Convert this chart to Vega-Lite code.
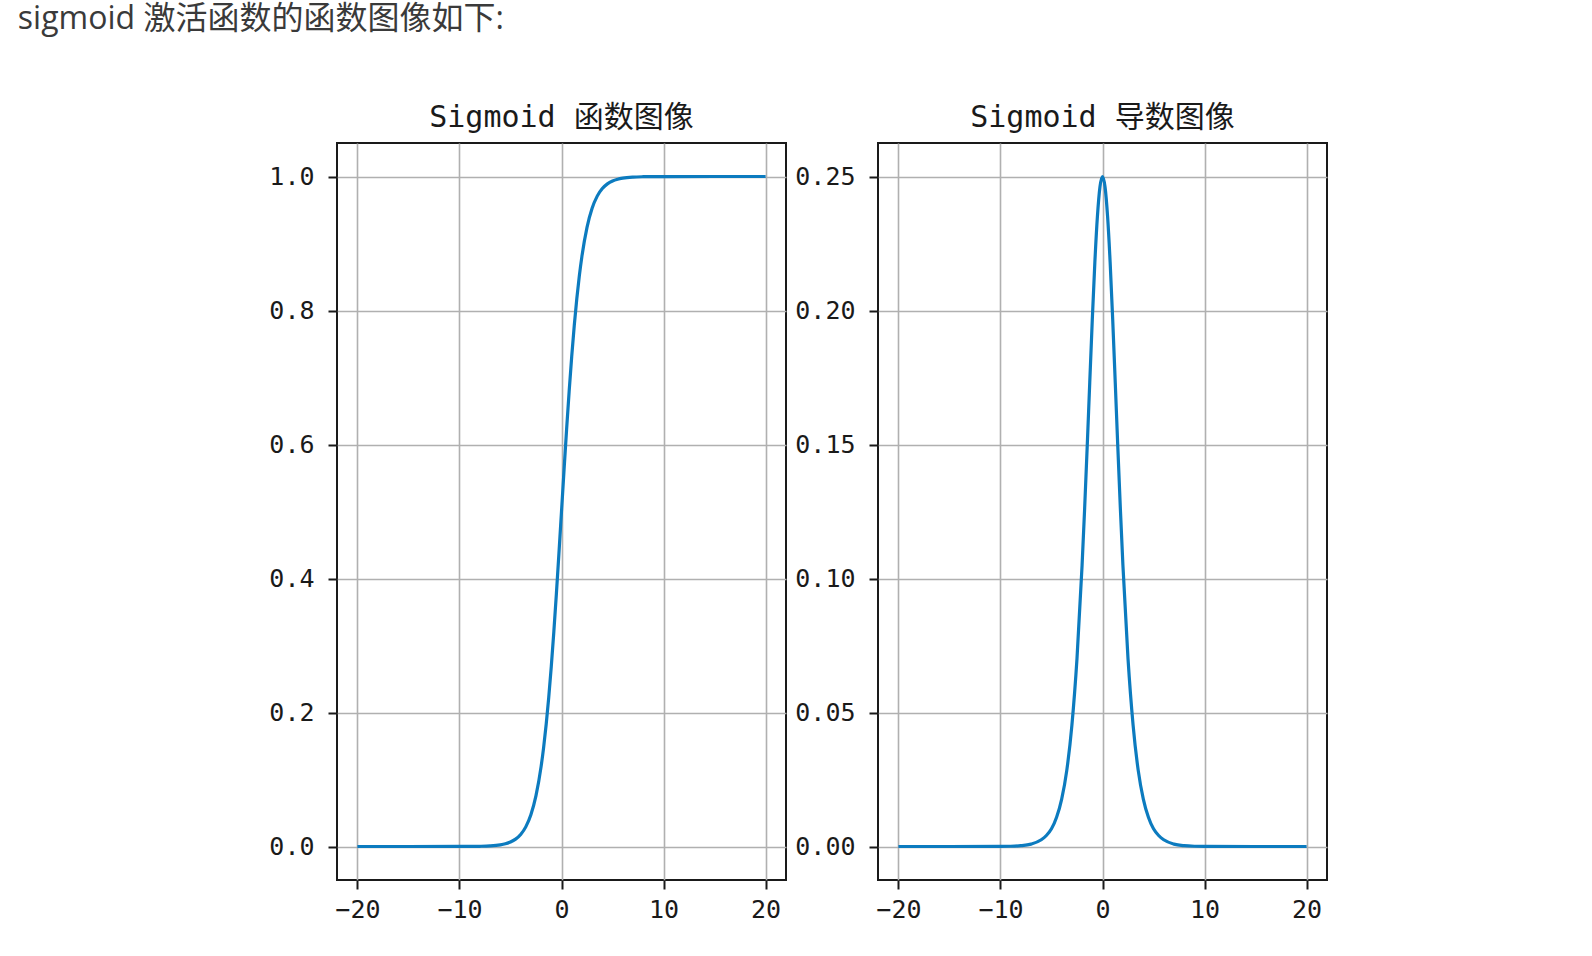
{
  "$schema": "https://vega.github.io/schema/vega-lite/v6.json",
  "background": "white",
  "padding": {"left": 17, "top": 3, "right": 5, "bottom": 5},
  "title": {
    "text": "sigmoid 激活函数的函数图像如下:",
    "anchor": "start",
    "frame": "bounds",
    "dx": -250,
    "offset": 41,
    "baseline": "alphabetic",
    "font": "Open Sans, Noto Sans CJK SC",
    "fontSize": 32,
    "fontWeight": "normal",
    "color": "#3a3a3a"
  },
  "data": {
    "values": [
      {"x": -20, "sig": 0.0, "dsig": 0.0},
      {"x": -15, "sig": 0.0, "dsig": 0.0},
      {"x": -10, "sig": 0.00005, "dsig": 0.00005},
      {"x": -9, "sig": 0.0001, "dsig": 0.0001},
      {"x": -8, "sig": 0.0003, "dsig": 0.0003},
      {"x": -7, "sig": 0.0009, "dsig": 0.0009},
      {"x": -6, "sig": 0.0025, "dsig": 0.0025},
      {"x": -5.5, "sig": 0.0041, "dsig": 0.0041},
      {"x": -5, "sig": 0.0067, "dsig": 0.0066},
      {"x": -4.5, "sig": 0.011, "dsig": 0.0109},
      {"x": -4, "sig": 0.018, "dsig": 0.0177},
      {"x": -3.5, "sig": 0.0293, "dsig": 0.0284},
      {"x": -3, "sig": 0.0474, "dsig": 0.0452},
      {"x": -2.5, "sig": 0.0759, "dsig": 0.0701},
      {"x": -2, "sig": 0.1192, "dsig": 0.105},
      {"x": -1.75, "sig": 0.148, "dsig": 0.1261},
      {"x": -1.5, "sig": 0.1824, "dsig": 0.1491},
      {"x": -1.25, "sig": 0.2227, "dsig": 0.1731},
      {"x": -1, "sig": 0.2689, "dsig": 0.1966},
      {"x": -0.75, "sig": 0.3208, "dsig": 0.2179},
      {"x": -0.5, "sig": 0.3775, "dsig": 0.235},
      {"x": -0.25, "sig": 0.4378, "dsig": 0.2461},
      {"x": 0, "sig": 0.5, "dsig": 0.25},
      {"x": 0.25, "sig": 0.5622, "dsig": 0.2461},
      {"x": 0.5, "sig": 0.6225, "dsig": 0.235},
      {"x": 0.75, "sig": 0.6792, "dsig": 0.2179},
      {"x": 1, "sig": 0.7311, "dsig": 0.1966},
      {"x": 1.25, "sig": 0.7773, "dsig": 0.1731},
      {"x": 1.5, "sig": 0.8176, "dsig": 0.1491},
      {"x": 1.75, "sig": 0.852, "dsig": 0.1261},
      {"x": 2, "sig": 0.8808, "dsig": 0.105},
      {"x": 2.5, "sig": 0.9241, "dsig": 0.0701},
      {"x": 3, "sig": 0.9526, "dsig": 0.0452},
      {"x": 3.5, "sig": 0.9707, "dsig": 0.0284},
      {"x": 4, "sig": 0.982, "dsig": 0.0177},
      {"x": 4.5, "sig": 0.989, "dsig": 0.0109},
      {"x": 5, "sig": 0.9933, "dsig": 0.0066},
      {"x": 5.5, "sig": 0.9959, "dsig": 0.0041},
      {"x": 6, "sig": 0.9975, "dsig": 0.0025},
      {"x": 7, "sig": 0.9991, "dsig": 0.0009},
      {"x": 8, "sig": 0.9997, "dsig": 0.0003},
      {"x": 9, "sig": 0.9999, "dsig": 0.0001},
      {"x": 10, "sig": 0.99995, "dsig": 0.00005},
      {"x": 15, "sig": 1.0, "dsig": 0.0},
      {"x": 20, "sig": 1.0, "dsig": 0.0}
    ]
  },
  "hconcat": [
    {
      "width": 449,
      "height": 737,
      "title": {"text": "Sigmoid 函数图像"},
      "mark": {"type": "line", "color": "#0c7bbf", "strokeWidth": 3.2, "interpolate": "monotone", "clip": true},
      "encoding": {
        "x": {
          "field": "x", "type": "quantitative",
          "scale": {"domain": [-22, 22], "nice": false, "zero": false},
          "axis": {"values": [-20, -10, 0, 10, 20], "title": null}
        },
        "y": {
          "field": "sig", "type": "quantitative",
          "scale": {"domain": [-0.05, 1.05], "nice": false, "zero": false},
          "axis": {"values": [0, 0.2, 0.4, 0.6, 0.8, 1.0], "format": ".1f", "title": null}
        }
      }
    },
    {
      "width": 449,
      "height": 737,
      "title": {"text": "Sigmoid 导数图像"},
      "mark": {"type": "line", "color": "#0c7bbf", "strokeWidth": 3.2, "interpolate": "monotone", "clip": true},
      "encoding": {
        "x": {
          "field": "x", "type": "quantitative",
          "scale": {"domain": [-22, 22], "nice": false, "zero": false},
          "axis": {"values": [-20, -10, 0, 10, 20], "title": null}
        },
        "y": {
          "field": "dsig", "type": "quantitative",
          "scale": {"domain": [-0.0125, 0.2625], "nice": false, "zero": false},
          "axis": {"values": [0, 0.05, 0.1, 0.15, 0.2, 0.25], "format": ".2f", "title": null}
        }
      }
    }
  ],
  "spacing": 92,
  "bounds": "flush",
  "config": {
    "view": {"stroke": "#1a1a1a", "strokeWidth": 2},
    "title": {
      "font": "DejaVu Sans Mono, Noto Sans CJK SC",
      "fontSize": 30,
      "fontWeight": "normal",
      "color": "#1a1a1a",
      "baseline": "alphabetic",
      "offset": 10,
      "anchor": "middle"
    },
    "axis": {
      "domain": false,
      "grid": true,
      "gridColor": "#b0b0b0",
      "gridWidth": 1.6,
      "gridOpacity": 1,
      "ticks": true,
      "tickColor": "#1a1a1a",
      "tickWidth": 2,
      "tickSize": 9,
      "labelFont": "DejaVu Sans Mono",
      "labelFontSize": 25,
      "labelColor": "#1a1a1a",
      "labelPadding": 8
    },
    "axisY": {"labelPadding": 14}
  }
}
